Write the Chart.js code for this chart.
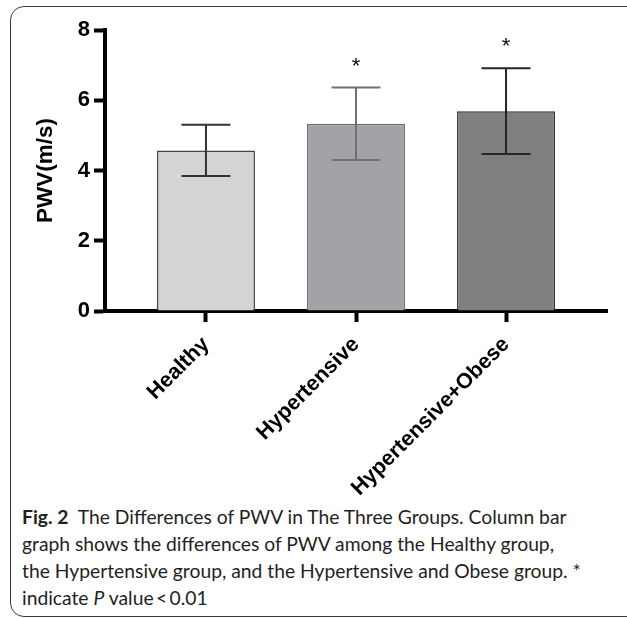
<!DOCTYPE html>
<html lang="en">
  <head>
    <meta charset="UTF-8" />
    <script src="https://cdn.jsdelivr.net/npm/chart.js"></script>
    <style>
      body { margin: 0; background: #fff; width: 627px; height: 618px; overflow: hidden; position: relative; }
      .frame {
        position: absolute; left: 10px; top: 6px; width: 640px; height: 609px;
        border: 1.5px solid #3a3a3a; border-radius: 14px;
      }
      #grafico { position: absolute; left: 0; top: 0; }
      .legenda {
        position: absolute; left: 22px; top: 503px;
        font-family: Lato, "Liberation Sans", sans-serif; font-size: 19.3px; line-height: 27px;
        color: #231f20; white-space: nowrap;
      }
    </style>
  </head>
  <body>
    <div class="frame"></div>
    <canvas id="grafico" width="627" height="500"></canvas>
    <div class="legenda">
      <b>Fig. 2</b>&nbsp; The Differences of PWV in The Three Groups. Column bar<br />
      graph shows the differences of PWV among the Healthy group,<br />
      the Hypertensive group, and the Hypertensive and Obese group. *<br />
      indicate <i>P</i> value&thinsp;&lt;&thinsp;0.01
    </div>
  </body>
</html>

<script>
  // dados
  const grupos = ["Healthy", "Hypertensive", "Hypertensive+Obese"];
  const medias = [4.57, 5.33, 5.69];
  const desvios = [0.73, 1.03, 1.22];
  const marcas = ["", "*", "*"];
  const yTicks = [0, 2, 4, 6, 8];

  const corBarra = ["#d4d4d4", "#a3a2a7", "#808080"];
  const corBorda = ["#444444", "#6e6e6e", "#333333"];
  const corErro = ["#333333", "#707070", "#262626"];

  // barras de erro e asteriscos
  const erroPlugin = {
    id: "erro",
    afterDatasetsDraw(chart) {
      const ctx = chart.ctx;
      const xs = chart.scales.x;
      const ys = chart.scales.y;
      const meta = chart.getDatasetMeta(0);
      ctx.save();
      for (let i = 0; i < grupos.length; i++) {
        const x = xs.getPixelForValue(i);
        const yAlto = ys.getPixelForValue(medias[i] + desvios[i]);
        const yBaixo = ys.getPixelForValue(medias[i] - desvios[i]);
        const meio = meta.data[i].width / 4;
        ctx.strokeStyle = corErro[i];
        ctx.lineWidth = 2;
        ctx.beginPath();
        ctx.moveTo(x, yBaixo);
        ctx.lineTo(x, yAlto);
        ctx.moveTo(x - meio, yAlto);
        ctx.lineTo(x + meio, yAlto);
        ctx.moveTo(x - meio, yBaixo);
        ctx.lineTo(x + meio, yBaixo);
        ctx.stroke();
        if (marcas[i]) {
          ctx.fillStyle = "#111";
          ctx.font = "22px 'Liberation Sans', Arial, sans-serif";
          ctx.textAlign = "center";
          ctx.textBaseline = "alphabetic";
          ctx.fillText(marcas[i], x, yAlto - 15);
        }
      }
      ctx.restore();
    },
  };

  const dados = {
    datasets: [
      {
        data: grupos.map((g, i) => ({ x: i, y: medias[i] })),
        backgroundColor: corBarra,
        borderColor: corBorda,
        borderWidth: 1.5,
        categoryPercentage: 1,
        barPercentage: 0.653,
      },
    ],
  };

  const fonteEixo = { family: "'Liberation Sans', Arial, sans-serif", weight: "bold" };

  const config = {
    type: "bar",
    data: dados,
    options: {
      responsive: false,
      animation: false,
      layout: { padding: { top: 30, right: 20, left: 0, bottom: 0 } },
      plugins: { legend: { display: false }, tooltip: { enabled: false } },
      scales: {
        x: {
          type: "linear",
          min: -0.673,
          max: 2.673,
          offset: false,
          afterBuildTicks(scale) {
            scale.ticks = grupos.map((g, i) => ({ value: i }));
          },
          afterFit(scale) {
            scale.height = 500 - 311;
          },
          ticks: {
            autoSkip: false,
            minRotation: 45,
            maxRotation: 45,
            padding: 10,
            color: "#000",
            font: { ...fonteEixo, size: 21.5 },
            callback: (v) => grupos[v],
          },
          grid: { offset: false, drawOnChartArea: false, tickLength: 11, tickWidth: 4, tickColor: "#000" },
          border: { width: 4, color: "#000" },
        },
        y: {
          min: 0,
          max: 8,
          afterBuildTicks(scale) {
            scale.ticks = yTicks.map((v) => ({ value: v }));
          },
          afterFit(scale) {
            scale.width = 105;
          },
          ticks: { padding: 4, color: "#000", font: { ...fonteEixo, size: 22 } },
          grid: { drawOnChartArea: false, tickLength: 11, tickWidth: 4, tickColor: "#000" },
          border: { width: 4, color: "#000" },
          title: {
            display: true,
            text: "PWV(m/s)",
            color: "#000",
            font: { ...fonteEixo, size: 22.5 },
            padding: { top: 32 },
          },
        },
      },
    },
    plugins: [erroPlugin],
  };

  new Chart(document.getElementById("grafico"), config);
</script>
